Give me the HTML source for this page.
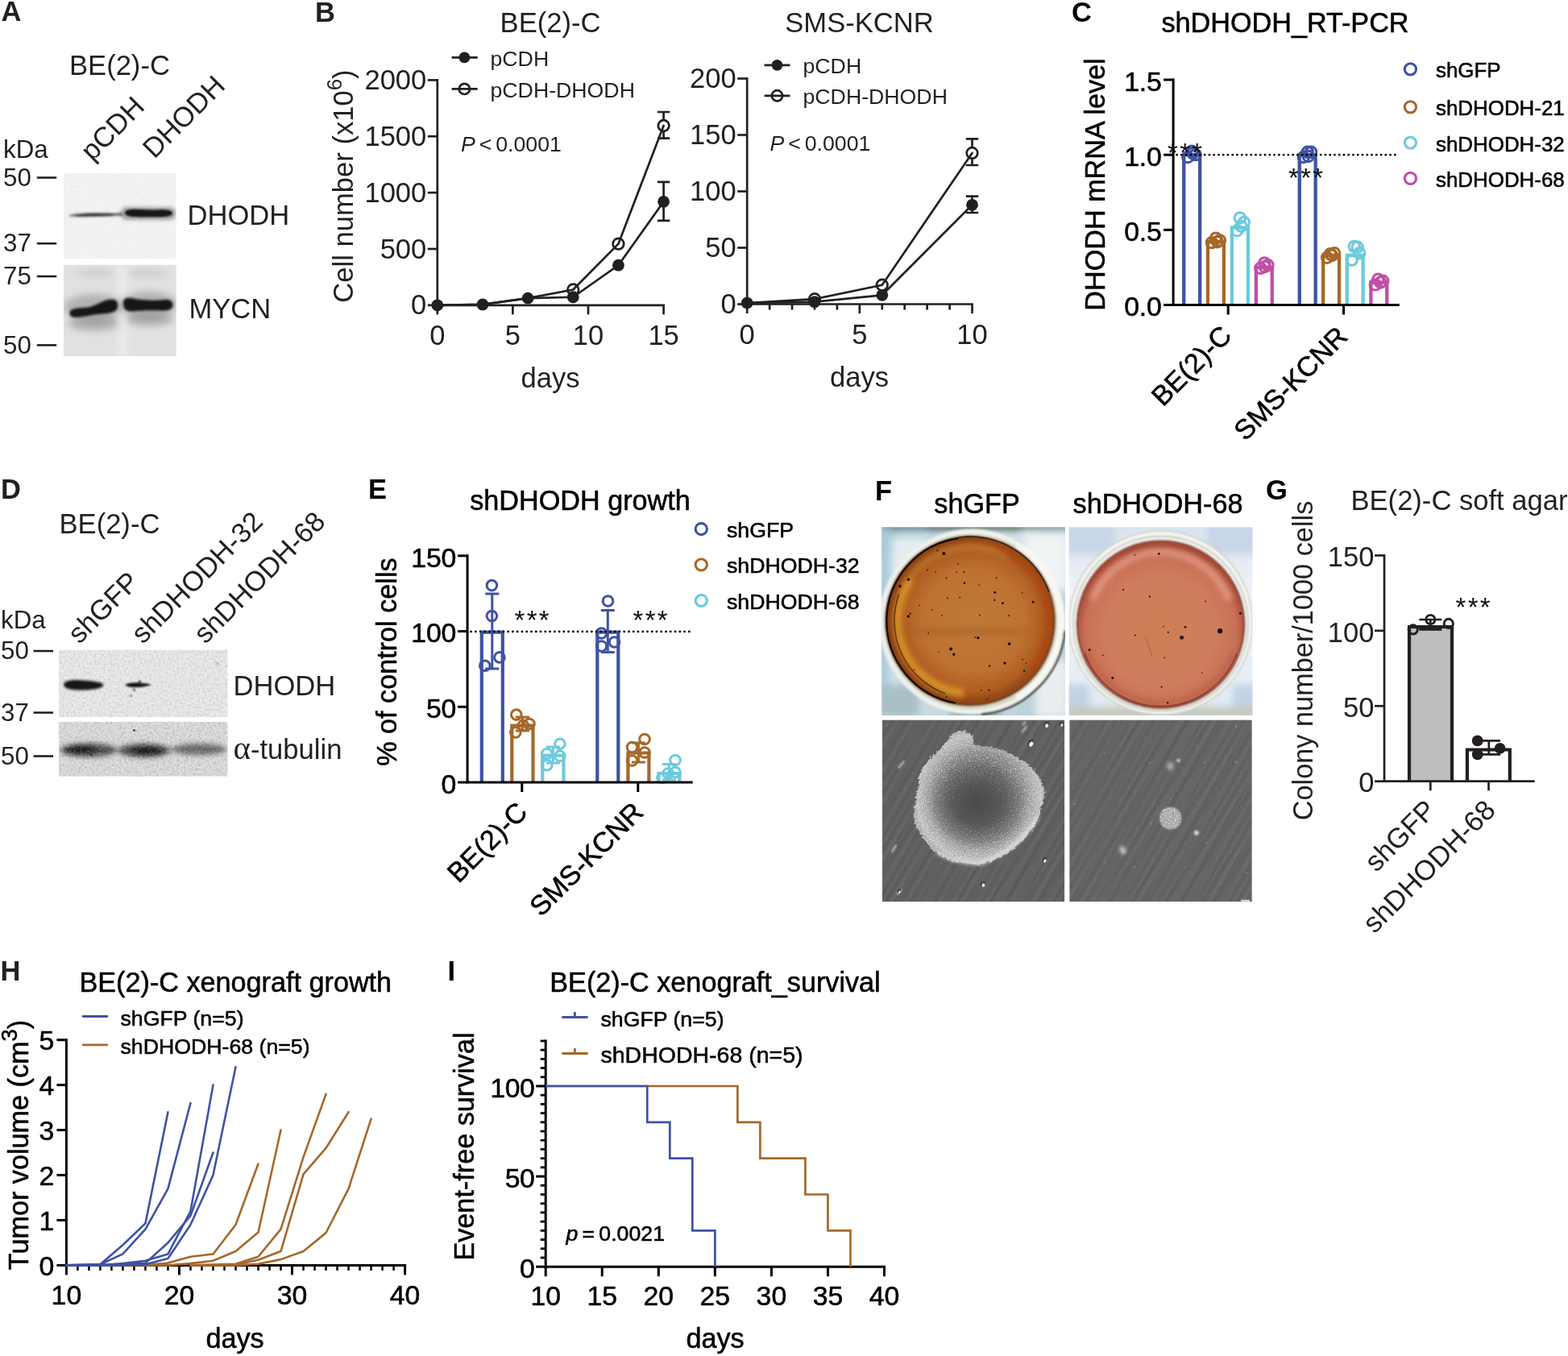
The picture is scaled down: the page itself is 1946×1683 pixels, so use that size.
<!DOCTYPE html>
<html lang="en">
<head>
<meta charset="utf-8">
<title>DHODH figure</title>
<style>
html,body{margin:0;padding:0;background:#fff;}
body{width:1946px;height:1683px;overflow:hidden;}
svg{display:block;}
svg text{font-family:"Liberation Sans", sans-serif;fill:#231f20;}
svg text.hv{fill:#000;stroke:#000;stroke-width:0.55px;stroke-linejoin:round;}
</style>
</head>
<body>
<svg width="1946" height="1683" viewBox="0 0 1946 1683">
<rect width="1946" height="1683" fill="#fff"/>
<defs>
<clipPath id="cA1"><rect x="78.8" y="215.1" width="140" height="105.9"/></clipPath>
<clipPath id="cA2"><rect x="78.8" y="328.6" width="140" height="113.7"/></clipPath>
<clipPath id="cD1"><rect x="73" y="806.4" width="209.7" height="83.7"/></clipPath>
<clipPath id="cD2"><rect x="73" y="895.8" width="209.7" height="67.9"/></clipPath>
<clipPath id="cF1"><rect x="1094.2" y="654.2" width="227.8" height="233.8"/></clipPath>
<clipPath id="cF2"><rect x="1326.6" y="654.2" width="227.9" height="233.8"/></clipPath>
<clipPath id="cF3"><rect x="1095" y="893.4" width="226.3" height="225.8"/></clipPath>
<clipPath id="cF4"><rect x="1327.2" y="893.4" width="226.6" height="225.8"/></clipPath>
<filter id="b05" x="-50%" y="-50%" width="200%" height="200%"><feGaussianBlur stdDeviation="0.5"/></filter>
<filter id="b1" x="-50%" y="-50%" width="200%" height="200%"><feGaussianBlur stdDeviation="1"/></filter>
<filter id="b15" x="-50%" y="-50%" width="200%" height="200%"><feGaussianBlur stdDeviation="1.5"/></filter>
<filter id="b2" x="-50%" y="-50%" width="200%" height="200%"><feGaussianBlur stdDeviation="2"/></filter>
<filter id="b3" x="-50%" y="-50%" width="200%" height="200%"><feGaussianBlur stdDeviation="3"/></filter>
<filter id="b5" x="-50%" y="-50%" width="200%" height="200%"><feGaussianBlur stdDeviation="5"/></filter>
<filter id="b8" x="-50%" y="-50%" width="200%" height="200%"><feGaussianBlur stdDeviation="8"/></filter>
<filter id="b12" x="-50%" y="-50%" width="200%" height="200%"><feGaussianBlur stdDeviation="12"/></filter>
<filter id="grain" x="0" y="0" width="100%" height="100%"><feTurbulence type="fractalNoise" baseFrequency="0.35" numOctaves="2" seed="3"/><feColorMatrix type="matrix" values="0 0 0 0 0  0 0 0 0 0  0 0 0 0 0  1.6 0 0 0 -0.62"/></filter>
<filter id="grainw" x="0" y="0" width="100%" height="100%"><feTurbulence type="fractalNoise" baseFrequency="0.35" numOctaves="2" seed="11"/><feColorMatrix type="matrix" values="0 0 0 0 1  0 0 0 0 1  0 0 0 0 1  1.6 0 0 0 -0.62"/></filter>
<filter id="speck" x="0" y="0" width="100%" height="100%"><feTurbulence type="fractalNoise" baseFrequency="0.7" numOctaves="2" seed="7"/><feColorMatrix type="matrix" values="0 0 0 0 1  0 0 0 0 1  0 0 0 0 1  4 0 0 0 -2.0"/><feComposite in2="SourceGraphic" operator="in"/></filter>
<filter id="speckd" x="0" y="0" width="100%" height="100%"><feTurbulence type="fractalNoise" baseFrequency="0.7" numOctaves="2" seed="19"/><feColorMatrix type="matrix" values="0 0 0 0 0.2  0 0 0 0 0.2  0 0 0 0 0.2  4 0 0 0 -2.0"/><feComposite in2="SourceGraphic" operator="in"/></filter>
<filter id="rough" x="-10%" y="-10%" width="120%" height="120%"><feTurbulence type="fractalNoise" baseFrequency="0.25" numOctaves="2" seed="5" result="n"/><feDisplacementMap in="SourceGraphic" in2="n" scale="7" xChannelSelector="R" yChannelSelector="G"/><feGaussianBlur stdDeviation="0.6"/></filter>
<radialGradient id="gAgar1" cx="0.52" cy="0.5" r="0.5"><stop offset="0" stop-color="#c07a38"/><stop offset="0.6" stop-color="#bd7232"/><stop offset="0.85" stop-color="#b05c22"/><stop offset="1" stop-color="#8e3f12"/></radialGradient>
<radialGradient id="gAgar2" cx="0.5" cy="0.55" r="0.52"><stop offset="0" stop-color="#cd7f55"/><stop offset="0.6" stop-color="#cf7e5c"/><stop offset="0.88" stop-color="#c96f58"/><stop offset="1" stop-color="#a44a35"/></radialGradient>
<linearGradient id="gBg1" x1="0" y1="0" x2="1" y2="1"><stop offset="0" stop-color="#a9c6d4"/><stop offset="0.25" stop-color="#d5e4ea"/><stop offset="0.6" stop-color="#c9dbe2"/><stop offset="1" stop-color="#b9ced8"/></linearGradient>
<linearGradient id="gBg2" x1="0" y1="0" x2="0" y2="1"><stop offset="0" stop-color="#d9e3ef"/><stop offset="0.4" stop-color="#f4f6fa"/><stop offset="1" stop-color="#dfe8f2"/></linearGradient>
<radialGradient id="gCol" cx="0.5" cy="0.5" r="0.5"><stop offset="0" stop-color="#555557"/><stop offset="0.45" stop-color="#666668"/><stop offset="0.68" stop-color="#8a8a8c"/><stop offset="0.84" stop-color="#b0b0b1"/><stop offset="0.95" stop-color="#c4c4c5"/><stop offset="1" stop-color="#b0b0b1"/></radialGradient>
<linearGradient id="gStreak" x1="0" y1="0" x2="1" y2="0" gradientUnits="userSpaceOnUse" spreadMethod="repeat" gradientTransform="rotate(32) scale(37 1)"><stop offset="0" stop-color="#fff" stop-opacity="0"/><stop offset="0.12" stop-color="#fff" stop-opacity="0.035"/><stop offset="0.2" stop-color="#000" stop-opacity="0.03"/><stop offset="0.38" stop-color="#fff" stop-opacity="0.05"/><stop offset="0.47" stop-color="#fff" stop-opacity="0.01"/><stop offset="0.6" stop-color="#000" stop-opacity="0.035"/><stop offset="0.78" stop-color="#fff" stop-opacity="0.03"/><stop offset="1" stop-color="#fff" stop-opacity="0"/></linearGradient>
<linearGradient id="gStreak2" x1="0" y1="0" x2="1" y2="0" gradientUnits="userSpaceOnUse" spreadMethod="repeat" gradientTransform="rotate(29) scale(17.3 1)"><stop offset="0" stop-color="#fff" stop-opacity="0"/><stop offset="0.3" stop-color="#fff" stop-opacity="0.035"/><stop offset="0.5" stop-color="#000" stop-opacity="0.03"/><stop offset="0.75" stop-color="#fff" stop-opacity="0.02"/><stop offset="1" stop-color="#fff" stop-opacity="0"/></linearGradient>
<radialGradient id="gCore" cx="0.5" cy="0.5" r="0.5"><stop offset="0" stop-color="#48484a" stop-opacity="0.92"/><stop offset="0.45" stop-color="#505052" stop-opacity="0.8"/><stop offset="0.8" stop-color="#606062" stop-opacity="0.35"/><stop offset="1" stop-color="#707072" stop-opacity="0"/></radialGradient>
<filter id="dots" x="0" y="0" width="100%" height="100%"><feTurbulence type="fractalNoise" baseFrequency="0.16" numOctaves="2" seed="23"/><feColorMatrix type="matrix" values="0 0 0 0 1  0 0 0 0 1  0 0 0 0 1  9 0 0 0 -6.9"/></filter>
</defs>
<g clip-path="url(#cA1)">
<rect x="78.8" y="215.1" width="140" height="105.9" fill="#f3f3f4"/>
<rect x="78.8" y="215.1" width="140" height="105.9" fill="#000" filter="url(#grain)" opacity="0.035"/>
<g filter="url(#b15)">
<path d="M86 267 C100 264.5 118 264.3 146 264.8 L152 264 L152 267.5 C130 268.5 105 269.5 86 268.5Z" fill="#3a3a3a" opacity="0.85"/>
<path d="M92 267.2 C105 265 120 265.2 140 266 L140 267.4 C120 268 105 268.3 92 268Z" fill="#111"/>
</g>
<g filter="url(#b2)" opacity="0.5"><rect x="150" y="257" width="68" height="16" rx="7" fill="#555"/></g>
<g filter="url(#b1)"><path d="M155 264 C156 258 170 260 185 260.5 C200 260.5 212 258.5 214 264.5 C214.5 269.5 200 269.5 185 269.3 C170 269.5 155.5 270 155 264Z" fill="#141414"/></g>
</g>
<g clip-path="url(#cA2)">
<rect x="78.8" y="328.6" width="140" height="113.7" fill="#e1e1e3"/>
<g filter="url(#b5)">
<rect x="148" y="328" width="8" height="116" fill="#f0f0f1" opacity="0.9"/>
<ellipse cx="117" cy="401" rx="32" ry="9" fill="#9a9a9c" opacity="0.75"/>
<ellipse cx="185" cy="396" rx="30" ry="8" fill="#9a9a9c" opacity="0.75"/>
<ellipse cx="117" cy="381" rx="38" ry="16" fill="#777" opacity="0.45"/>
<ellipse cx="184" cy="378" rx="36" ry="16" fill="#777" opacity="0.45"/>
<ellipse cx="118" cy="339" rx="24" ry="4" fill="#bbb" opacity="0.6"/>
<ellipse cx="182" cy="339" rx="26" ry="4" fill="#bbb" opacity="0.6"/>
</g>
<g filter="url(#b15)">
<path d="M86.5 388 C87 382 98 382.5 108 381.5 C120 380 128 371 140 371.5 C147 372 147 380 145 384 C141 390 128 389 118 390.5 C105 392.5 96 395 90 393.5 C87 392.5 86 390 86.5 388Z" fill="#151515"/>
<path d="M153 376 C153 369 160 369 168 371 C180 373 195 373 204 372 C211 371 215 374 214.5 379 C214 385 207 386 198 385.5 C186 385 172 386 164 386.5 C156 387 153 383 153 376Z" fill="#151515"/>
</g>
</g>
<g clip-path="url(#cD1)">
<rect x="73" y="806.4" width="209.7" height="83.7" fill="#e9e9ea"/>
<rect x="73" y="806.4" width="209.7" height="83.7" fill="#000" filter="url(#grain)" opacity="0.15"/>
<rect x="73" y="806.4" width="209.7" height="83.7" fill="#fff" filter="url(#grainw)" opacity="0.25"/>
<g filter="url(#b15)">
<path d="M79 849.5 C80 843 95 843.5 105 844.5 C118 845.5 128 847 128.5 850 C128.5 853.5 118 856 105 856.5 C93 857 79 856 79 849.5Z" fill="#121212"/>
</g>
<g filter="url(#b1)">
<path d="M155.5 850 C158 847.5 168 847 173 847.5 C180 848 186 849 188.5 850 C184 851.5 176 853 170 853 C163 853 157 852.5 155.5 850Z" fill="#161616"/>
<circle cx="173.5" cy="846" r="1.6" fill="#222"/><circle cx="166.5" cy="856" r="1.5" fill="#444"/><circle cx="162.5" cy="863.5" r="1.4" fill="#777"/><circle cx="270" cy="823.5" r="1.5" fill="#999"/>
</g>
</g>
<g clip-path="url(#cD2)">
<rect x="73" y="895.8" width="209.7" height="67.9" fill="#dcdcdd"/>
<g filter="url(#b3)">
<ellipse cx="110" cy="931" rx="35" ry="8.5" fill="#3a3a3a" opacity="0.9"/>
<ellipse cx="100" cy="930.5" rx="20" ry="5" fill="#080808" opacity="0.9"/>
<ellipse cx="179" cy="931.5" rx="33" ry="8.5" fill="#3a3a3a" opacity="0.9"/>
<ellipse cx="182" cy="932" rx="21" ry="5" fill="#080808" opacity="0.9"/>
<ellipse cx="247" cy="930" rx="34" ry="7" fill="#4a4a4a" opacity="0.8"/>
</g>
<rect x="73" y="895.8" width="209.7" height="67.9" fill="#000" filter="url(#grain)" opacity="0.2"/>
<rect x="73" y="895.8" width="209.7" height="67.9" fill="#fff" filter="url(#grainw)" opacity="0.28"/>
<circle cx="166.5" cy="906.5" r="1.3" fill="#222"/><circle cx="113" cy="937.5" r="1" fill="#111"/>
</g>
<g clip-path="url(#cF1)">
<rect x="1094.2" y="654.2" width="227.8" height="233.8" fill="url(#gBg1)"/>
<g filter="url(#b5)">
<rect x="1090" y="650" width="236" height="7" fill="#4f7274"/>
<rect x="1150" y="651" width="120" height="6" fill="#2f3a2c"/>
<rect x="1090" y="654" width="12" height="234" fill="#a9c9da"/>
<rect x="1108" y="668" width="40" height="45" fill="#e4eef2"/>
<rect x="1270" y="662" width="55" height="70" fill="#eef3f4"/>
<rect x="1090" y="850" width="50" height="40" fill="#a9bfc6"/>
<rect x="1285" y="820" width="40" height="70" fill="#e9eef0"/>
<rect x="1180" y="878" width="60" height="12" fill="#8aa5ac"/>
</g>
<g filter="url(#b1)">
<circle cx="1205.9" cy="771.6" r="112" fill="#d6d8c8" stroke="#eef0ea" stroke-width="6"/>
<path d="M1261.9 676.34A110 110 0 0 1 1261.9 866.86" fill="none" stroke="#f7f7f2" stroke-width="9"/>
<path d="M1321.47 782.54A114 114 0 0 1 1217.84 886.17" fill="none" stroke="#26201a" stroke-width="2.4"/>
<circle cx="1203.9" cy="770.6" r="106" fill="#5a2f0e"/>
<circle cx="1203.9" cy="770.6" r="104" fill="url(#gAgar1)"/>
</g>
<g filter="url(#b3)">
<path d="M1196.06 860.26A90 90 0 0 1 1130.18 718.98" fill="none" stroke="#dd9a2c" stroke-width="10" opacity="0.85"/>
<path d="M1128.54 717.83A92 92 0 0 1 1249.9 690.93" fill="none" stroke="#c98a33" stroke-width="7" opacity="0.6"/>
<path d="M1237.08 679.45A97 97 0 0 1 1278.21 832.95" fill="none" stroke="#aa4515" stroke-width="9" opacity="0.75"/>
<path d="M1279.74 834.24A99 99 0 0 1 1140.26 846.44" fill="none" stroke="#8a4a17" stroke-width="6" opacity="0.6"/>
<ellipse cx="1198.9" cy="783.6" rx="85" ry="6" fill="#a55f28" opacity="0.45"/>
</g>
<g filter="url(#b05)" fill="none" stroke="#130b04">
<path d="M1185.93 872.53A103.5 103.5 0 0 1 1189.5 668.11" stroke-width="2.2"/>
<path d="M1173.07 860.81A96 96 0 0 1 1115.69 737.77" stroke-width="1.4" opacity="0.55"/>
<path d="M1189.36 667.12A104.5 104.5 0 0 1 1302.1 734.86" stroke-width="1.4" opacity="0.7"/>
</g>
<g filter="url(#b05)" fill="#120c08">
<circle cx="1171.18" cy="687.05" r="2.05"/>
<circle cx="1163.31" cy="683.34" r="1.03"/>
<circle cx="1127.35" cy="719.29" r="1.71"/>
<circle cx="1116.95" cy="727.47" r="1.71"/>
<circle cx="1127.35" cy="765.06" r="1.71"/>
<circle cx="1129.58" cy="761.64" r="1.03"/>
<circle cx="1189.01" cy="699.53" r="0.85"/>
<circle cx="1196.44" cy="709.93" r="1.03"/>
<circle cx="1187.23" cy="710.38" r="0.8"/>
<circle cx="1161.23" cy="709.93" r="0.8"/>
<circle cx="1151.12" cy="707.41" r="0.85"/>
<circle cx="1174.6" cy="717.07" r="0.85"/>
<circle cx="1196.89" cy="723.75" r="1.2"/>
<circle cx="1234.63" cy="735.19" r="1.54"/>
<circle cx="1234.33" cy="744.85" r="1.03"/>
<circle cx="1244.44" cy="748.71" r="1.37"/>
<circle cx="1282.18" cy="747.23" r="1.37"/>
<circle cx="1268.8" cy="735.94" r="0.8"/>
<circle cx="1236.56" cy="717.36" r="0.85"/>
<circle cx="1215.31" cy="725.98" r="0.8"/>
<circle cx="1175.94" cy="742.03" r="0.85"/>
<circle cx="1191.24" cy="741.58" r="0.8"/>
<circle cx="1252.16" cy="764.17" r="0.85"/>
<circle cx="1215.76" cy="763.42" r="0.8"/>
<circle cx="1213.83" cy="791.66" r="1.71"/>
<circle cx="1210.26" cy="790.91" r="0.85"/>
<circle cx="1252.61" cy="799.09" r="1.88"/>
<circle cx="1180.1" cy="805.48" r="1.88"/>
<circle cx="1183.81" cy="812.16" r="1.54"/>
<circle cx="1246.96" cy="823.01" r="1.71"/>
<circle cx="1228.09" cy="826.43" r="1.2"/>
<circle cx="1271.18" cy="832.67" r="1.2"/>
<circle cx="1273.41" cy="823.31" r="0.8"/>
<circle cx="1268.8" cy="818.55" r="0.8"/>
<circle cx="1227.35" cy="856.44" r="1.03"/>
<circle cx="1217.69" cy="856.44" r="0.8"/>
<circle cx="1152.31" cy="785.71" r="0.8"/>
<circle cx="1156.77" cy="756.74" r="0.8"/>
<circle cx="1140.72" cy="751.54" r="0.8"/>
<circle cx="1168.95" cy="763.87" r="0.8"/>
<circle cx="1165.24" cy="809.49" r="0.8"/>
<circle cx="1134.48" cy="831.18" r="0.8"/>
<circle cx="1174.6" cy="864.61" r="0.8"/>
<circle cx="1225.42" cy="867.44" r="0.8"/>
</g>
</g>
<g clip-path="url(#cF2)">
<rect x="1326.6" y="654.2" width="227.9" height="233.8" fill="url(#gBg2)"/>
<g filter="url(#b5)">
<rect x="1322" y="650" width="62" height="38" fill="#c9d6e8"/>
<rect x="1498" y="650" width="62" height="38" fill="#c9d6e8"/>
<rect x="1322" y="850" width="30" height="42" fill="#c3d2e4"/>
<rect x="1530" y="850" width="30" height="42" fill="#c3d2e4"/>
<rect x="1322" y="878" width="240" height="14" fill="#c4c7ba"/>
</g>
<g filter="url(#b1)">
<circle cx="1440.56" cy="773.01" r="114" fill="#f5f5f1" stroke="#c9ccc2" stroke-width="1.5"/>
<circle cx="1440.56" cy="774.01" r="108.5" fill="none" stroke="#b4b7aa" stroke-width="1.3"/>
<circle cx="1440.56" cy="775.01" r="105" fill="#74281a"/>
<circle cx="1440.56" cy="774.21" r="103.2" fill="url(#gAgar2)"/>
</g>
<g filter="url(#b3)">
<path d="M1355.98 744.23A90 90 0 0 1 1525.13 744.23" fill="none" stroke="#e59a86" stroke-width="10" opacity="0.8"/>
<path d="M1531.71 808.19A97 97 0 0 1 1349.41 808.19" fill="none" stroke="#b2553c" stroke-width="6" opacity="0.55"/>
</g>
<path d="M1535 810.39A100.5 100.5 0 0 1 1346.12 810.39" fill="none" stroke="#4a150c" stroke-width="1.4" opacity="0.45" filter="url(#b05)"/>
<line x1="1421" y1="789" x2="1430" y2="815" stroke="#a8563c" stroke-width="1.2" opacity="0.6"/>
<g filter="url(#b05)" fill="#120a08">
<circle cx="1514.11" cy="783.19" r="3.11"/>
<circle cx="1466.56" cy="791.36" r="2.45"/>
<circle cx="1471.02" cy="778.28" r="1.31"/>
<circle cx="1438.33" cy="687.35" r="1.31"/>
<circle cx="1408.61" cy="688.83" r="0.82"/>
<circle cx="1394.2" cy="731.92" r="0.98"/>
<circle cx="1426.89" cy="740.39" r="1.14"/>
<circle cx="1495.98" cy="746.34" r="0.82"/>
<circle cx="1408.91" cy="788.39" r="0.98"/>
<circle cx="1539.37" cy="761.2" r="1.47"/>
<circle cx="1352.15" cy="806.66" r="1.31"/>
<circle cx="1368.79" cy="813.35" r="0.82"/>
<circle cx="1380.82" cy="841.43" r="1.47"/>
<circle cx="1441.6" cy="852.58" r="0.98"/>
<circle cx="1449.18" cy="872.34" r="1.14"/>
<circle cx="1445.31" cy="816.32" r="0.82"/>
<circle cx="1491.52" cy="835.19" r="0.8"/>
<circle cx="1449.77" cy="784.67" r="0.98"/>
<circle cx="1443.97" cy="777.69" r="0.8"/>
</g>
</g>
<g clip-path="url(#cF3)">
<rect x="1095" y="893.4" width="226.3" height="225.8" fill="#5d5d5f"/>
<rect x="1095" y="893.4" width="226.3" height="225.8" fill="url(#gStreak)"/>
<rect x="1095" y="893.4" width="226.3" height="225.8" fill="url(#gStreak2)"/>
<g filter="url(#rough)"><path d="M1177.12 917.52Q1180.1 911.95 1184.55 909.35Q1189.01 906.75 1194.96 907.12Q1200.9 907.49 1204.24 910.46Q1207.59 913.43 1207.96 919Q1208.33 924.58 1213.53 925.32Q1218.73 926.06 1226.16 926.81Q1233.59 927.55 1242.5 930.52Q1251.42 933.49 1259.59 937.95Q1267.76 942.41 1275.19 948.35Q1282.62 954.29 1287.08 960.24Q1291.54 966.18 1294.51 973.61Q1297.48 981.04 1295.25 989.96Q1293.02 998.87 1290.79 1007.79Q1288.57 1016.7 1282.62 1026.36Q1276.68 1036.02 1268.51 1044.19Q1260.33 1052.36 1250.68 1059.05Q1241.02 1065.74 1229.87 1069.45Q1218.73 1073.16 1208.33 1072.79Q1197.93 1072.42 1187.53 1069.82Q1177.12 1067.22 1168.95 1062.76Q1160.78 1058.31 1154.09 1050.88Q1147.41 1043.45 1142.21 1035.27Q1137.01 1027.1 1134.78 1018.93Q1132.55 1010.76 1134.78 1001.84Q1137.01 992.93 1138.49 984.01Q1139.98 975.1 1140.72 966.18Q1141.46 957.27 1146.66 949.84Q1151.86 942.41 1158.55 937.21Q1165.24 932.01 1169.7 927.55Q1174.15 923.09 1177.12 917.52Z" fill="url(#gCol)"/></g>
<path d="M1177.12 917.52Q1180.1 911.95 1184.55 909.35Q1189.01 906.75 1194.96 907.12Q1200.9 907.49 1204.24 910.46Q1207.59 913.43 1207.96 919Q1208.33 924.58 1213.53 925.32Q1218.73 926.06 1226.16 926.81Q1233.59 927.55 1242.5 930.52Q1251.42 933.49 1259.59 937.95Q1267.76 942.41 1275.19 948.35Q1282.62 954.29 1287.08 960.24Q1291.54 966.18 1294.51 973.61Q1297.48 981.04 1295.25 989.96Q1293.02 998.87 1290.79 1007.79Q1288.57 1016.7 1282.62 1026.36Q1276.68 1036.02 1268.51 1044.19Q1260.33 1052.36 1250.68 1059.05Q1241.02 1065.74 1229.87 1069.45Q1218.73 1073.16 1208.33 1072.79Q1197.93 1072.42 1187.53 1069.82Q1177.12 1067.22 1168.95 1062.76Q1160.78 1058.31 1154.09 1050.88Q1147.41 1043.45 1142.21 1035.27Q1137.01 1027.1 1134.78 1018.93Q1132.55 1010.76 1134.78 1001.84Q1137.01 992.93 1138.49 984.01Q1139.98 975.1 1140.72 966.18Q1141.46 957.27 1146.66 949.84Q1151.86 942.41 1158.55 937.21Q1165.24 932.01 1169.7 927.55Q1174.15 923.09 1177.12 917.52Z" fill="#fff" filter="url(#speck)" opacity="0.6"/>
<path d="M1177.12 917.52Q1180.1 911.95 1184.55 909.35Q1189.01 906.75 1194.96 907.12Q1200.9 907.49 1204.24 910.46Q1207.59 913.43 1207.96 919Q1208.33 924.58 1213.53 925.32Q1218.73 926.06 1226.16 926.81Q1233.59 927.55 1242.5 930.52Q1251.42 933.49 1259.59 937.95Q1267.76 942.41 1275.19 948.35Q1282.62 954.29 1287.08 960.24Q1291.54 966.18 1294.51 973.61Q1297.48 981.04 1295.25 989.96Q1293.02 998.87 1290.79 1007.79Q1288.57 1016.7 1282.62 1026.36Q1276.68 1036.02 1268.51 1044.19Q1260.33 1052.36 1250.68 1059.05Q1241.02 1065.74 1229.87 1069.45Q1218.73 1073.16 1208.33 1072.79Q1197.93 1072.42 1187.53 1069.82Q1177.12 1067.22 1168.95 1062.76Q1160.78 1058.31 1154.09 1050.88Q1147.41 1043.45 1142.21 1035.27Q1137.01 1027.1 1134.78 1018.93Q1132.55 1010.76 1134.78 1001.84Q1137.01 992.93 1138.49 984.01Q1139.98 975.1 1140.72 966.18Q1141.46 957.27 1146.66 949.84Q1151.86 942.41 1158.55 937.21Q1165.24 932.01 1169.7 927.55Q1174.15 923.09 1177.12 917.52Z" fill="#000" filter="url(#speckd)" opacity="0.3"/>
<ellipse cx="1212.79" cy="997.38" rx="62" ry="56" fill="url(#gCore)"/>
<g filter="url(#b2)"><path d="M1162.27 1058.31Q1189.01 1073.16 1218.73 1071.68Q1266.28 1050.88 1288.57 1013.73" fill="none" stroke="#f2f2f2" stroke-width="3.5" opacity="0.75"/></g>
<g filter="url(#b1)" stroke="#c9c9c9" stroke-width="2.4" stroke-linecap="round" opacity="0.85">
<line x1="1115.46" y1="952.81" x2="1121.4" y2="945.38"/>
<line x1="1107.29" y1="1056.82" x2="1111.75" y2="1049.39"/>
<line x1="1268.51" y1="908.23" x2="1273.71" y2="902.29"/>
<line x1="1269.99" y1="899.32" x2="1272.52" y2="896.05"/>
<line x1="1113.97" y1="1109.57" x2="1118.43" y2="1104.37"/>
</g>
<g filter="url(#b05)">
<ellipse cx="1278.85" cy="922.49" rx="3.57" ry="4.76" transform="rotate(30 1279.65 923.09)" fill="#3f3f41"/>
<ellipse cx="1280.05" cy="923.49" rx="2.38" ry="3.33" transform="rotate(30 1279.65 923.09)" fill="#ececec"/>
<ellipse cx="1298.17" cy="899.46" rx="3.27" ry="3.57" transform="rotate(30 1298.97 900.06)" fill="#3f3f41"/>
<ellipse cx="1299.37" cy="900.46" rx="2.14" ry="2.38" transform="rotate(30 1298.97 900.06)" fill="#ececec"/>
<ellipse cx="1316.74" cy="898.72" rx="2.23" ry="2.98" transform="rotate(30 1317.54 899.32)" fill="#3f3f41"/>
<ellipse cx="1317.94" cy="899.72" rx="1.31" ry="1.9" transform="rotate(30 1317.54 899.32)" fill="#ececec"/>
<ellipse cx="1295.94" cy="1067.36" rx="2.53" ry="3.57" transform="rotate(30 1296.74 1067.96)" fill="#3f3f41"/>
<ellipse cx="1297.14" cy="1068.36" rx="1.55" ry="2.38" transform="rotate(30 1296.74 1067.96)" fill="#ececec"/>
<ellipse cx="1219.42" cy="1097.53" rx="2.98" ry="3.57" transform="rotate(30 1220.22 1098.13)" fill="#3f3f41"/>
<ellipse cx="1220.62" cy="1098.53" rx="1.9" ry="2.38" transform="rotate(30 1220.22 1098.13)" fill="#ececec"/>
<ellipse cx="1115.4" cy="1106" rx="1.94" ry="2.98" transform="rotate(30 1116.2 1106.6)" fill="#3f3f41"/>
<ellipse cx="1116.6" cy="1107" rx="1.07" ry="1.9" transform="rotate(30 1116.2 1106.6)" fill="#ececec"/>
</g>
</g>
<g clip-path="url(#cF4)">
<rect x="1327.2" y="893.4" width="226.6" height="225.8" fill="#616163"/>
<rect x="1327.2" y="893.4" width="226.6" height="225.8" fill="url(#gStreak)"/>
<rect x="1327.2" y="893.4" width="226.6" height="225.8" fill="url(#gStreak2)"/>
<rect x="1327.2" y="893.4" width="226.6" height="225.8" fill="#fff" filter="url(#dots)" opacity="0.22"/>
<g filter="url(#b1)">
<path d="M1449.44 1002.01Q1452.44 1001.51 1456.44 1002.26Q1460.44 1003.01 1462.94 1006.26Q1465.44 1009.51 1465.94 1013.51Q1466.44 1017.51 1464.94 1021.51Q1463.44 1025.51 1459.94 1027.51Q1456.44 1029.51 1451.94 1029.26Q1447.44 1029.01 1444.44 1026.76Q1441.44 1024.51 1439.94 1020.51Q1438.44 1016.51 1439.44 1012.01Q1440.44 1007.51 1443.44 1005.01Q1446.44 1002.51 1449.44 1002.01Z" fill="#a9a9aa"/>
<circle cx="1484.84" cy="1033.79" r="3" fill="#d5d5d5"/>
<circle cx="1462.55" cy="943.89" r="2.4" fill="#c0c0c0"/>
</g>
<path d="M1449.44 1002.01Q1452.44 1001.51 1456.44 1002.26Q1460.44 1003.01 1462.94 1006.26Q1465.44 1009.51 1465.94 1013.51Q1466.44 1017.51 1464.94 1021.51Q1463.44 1025.51 1459.94 1027.51Q1456.44 1029.51 1451.94 1029.26Q1447.44 1029.01 1444.44 1026.76Q1441.44 1024.51 1439.94 1020.51Q1438.44 1016.51 1439.44 1012.01Q1440.44 1007.51 1443.44 1005.01Q1446.44 1002.51 1449.44 1002.01Z" fill="#fff" filter="url(#speck)" opacity="0.8"/>
<path d="M1449.44 1002.01Q1452.44 1001.51 1456.44 1002.26Q1460.44 1003.01 1462.94 1006.26Q1465.44 1009.51 1465.94 1013.51Q1466.44 1017.51 1464.94 1021.51Q1463.44 1025.51 1459.94 1027.51Q1456.44 1029.51 1451.94 1029.26Q1447.44 1029.01 1444.44 1026.76Q1441.44 1024.51 1439.94 1020.51Q1438.44 1016.51 1439.44 1012.01Q1440.44 1007.51 1443.44 1005.01Q1446.44 1002.51 1449.44 1002.01Z" fill="#000" filter="url(#speckd)" opacity="0.35"/>
<g filter="url(#b2)">
<ellipse cx="1452.44" cy="951.03" rx="4" ry="5" fill="#cfcfcf" opacity="0.7"/>
<ellipse cx="1393.45" cy="1055.33" rx="3.6" ry="5.2" fill="#dcdcdc" opacity="0.85" transform="rotate(-25 1393.45 1055.33)"/>
</g>
<rect x="1540.11" y="1116.85" width="11" height="1.8" fill="#e8e8e8"/>
</g>
<text font-size="34.5" font-weight="bold" transform="translate(1.5 26.1)">A</text>
<text font-size="34.6" transform="translate(86 93)">BE(2)-C</text>
<text font-size="34.6" transform="translate(114.6 201) rotate(-45)">pCDH</text>
<text font-size="34.6" transform="translate(191.5 198) rotate(-45)">DHODH</text>
<text font-size="31.3" transform="translate(4 196.4)">kDa</text>
<text font-size="31.3" transform="translate(4 230.7)">50</text>
<line x1="45.8" y1="220.5" x2="70.2" y2="220.5" stroke="#231f20" stroke-width="2.6"/>
<text font-size="31.3" transform="translate(4 312.4)">37</text>
<line x1="45.8" y1="302.2" x2="70.2" y2="302.2" stroke="#231f20" stroke-width="2.6"/>
<text font-size="31.3" transform="translate(4 353.2)">75</text>
<line x1="45.8" y1="343" x2="70.2" y2="343" stroke="#231f20" stroke-width="2.6"/>
<text font-size="31.3" transform="translate(4 438.6)">50</text>
<line x1="45.8" y1="428.4" x2="70.2" y2="428.4" stroke="#231f20" stroke-width="2.6"/>
<text font-size="34.6" transform="translate(232.5 279)">DHODH</text>
<text font-size="34.6" transform="translate(234.5 395)">MYCN</text>
<text font-size="34.5" font-weight="bold" transform="translate(391 26.6)">B</text>
<text font-size="34.6" text-anchor="middle" transform="translate(683 40)">BE(2)-C</text>
<text font-size="34.6" text-anchor="middle" transform="translate(437.5 231) rotate(-90)">Cell number (x10<tspan dy="-13.3" font-size="26">6</tspan><tspan dy="13.3">)</tspan></text>
<path d="M542.8 99.4V378.8H823.6" fill="none" stroke="#231f20" stroke-width="2.7" stroke-linecap="square"/>
<line x1="530.8" y1="378.8" x2="542.8" y2="378.8" stroke="#231f20" stroke-width="2.7"/>
<text font-size="34.5" text-anchor="end" transform="translate(529.2 390.4)">0</text>
<line x1="530.8" y1="308.95" x2="542.8" y2="308.95" stroke="#231f20" stroke-width="2.7"/>
<text font-size="34.5" text-anchor="end" transform="translate(529.2 320.55)">500</text>
<line x1="530.8" y1="239.1" x2="542.8" y2="239.1" stroke="#231f20" stroke-width="2.7"/>
<text font-size="34.5" text-anchor="end" transform="translate(529.2 250.7)">1000</text>
<line x1="530.8" y1="169.25" x2="542.8" y2="169.25" stroke="#231f20" stroke-width="2.7"/>
<text font-size="34.5" text-anchor="end" transform="translate(529.2 180.85)">1500</text>
<line x1="530.8" y1="99.4" x2="542.8" y2="99.4" stroke="#231f20" stroke-width="2.7"/>
<text font-size="34.5" text-anchor="end" transform="translate(529.2 111)">2000</text>
<line x1="542.8" y1="378.8" x2="542.8" y2="390.3" stroke="#231f20" stroke-width="2.7"/>
<text font-size="34.5" text-anchor="middle" transform="translate(542.8 427.6)">0</text>
<line x1="636.4" y1="378.8" x2="636.4" y2="390.3" stroke="#231f20" stroke-width="2.7"/>
<text font-size="34.5" text-anchor="middle" transform="translate(636.4 427.6)">5</text>
<line x1="730" y1="378.8" x2="730" y2="390.3" stroke="#231f20" stroke-width="2.7"/>
<text font-size="34.5" text-anchor="middle" transform="translate(730 427.6)">10</text>
<line x1="823.6" y1="378.8" x2="823.6" y2="390.3" stroke="#231f20" stroke-width="2.7"/>
<text font-size="34.5" text-anchor="middle" transform="translate(823.6 427.6)">15</text>
<text font-size="34.6" text-anchor="middle" transform="translate(683 480.5)">days</text>
<path d="M815.9 139H831.3M823.6 139V171.7M815.9 171.7H831.3" fill="none" stroke="#231f20" stroke-width="2.7"/>
<path d="M815.9 225.8H831.3M823.6 225.8V273.9M815.9 273.9H831.3" fill="none" stroke="#231f20" stroke-width="2.7"/>
<circle cx="711.28" cy="359.52" r="6.8" fill="#fff" stroke="#231f20" stroke-width="2.7"/>
<circle cx="767.44" cy="302.66" r="6.8" fill="#fff" stroke="#231f20" stroke-width="2.7"/>
<circle cx="823.6" cy="155.98" r="6.8" fill="#fff" stroke="#231f20" stroke-width="2.7"/>
<polyline points="542.8,378.8 598.96,377.96 655.12,370.14 711.28,359.52 767.44,302.66 823.6,155.98" fill="none" stroke="#231f20" stroke-width="2.7" stroke-linejoin="round" stroke-linecap="round"/>
<polyline points="542.8,378.8 598.96,377.96 655.12,370.14 711.28,368.74 767.44,329.21 823.6,250.28" fill="none" stroke="#231f20" stroke-width="2.7" stroke-linejoin="round" stroke-linecap="round"/>
<circle cx="542.8" cy="378.8" r="7.4" fill="#231f20" stroke="none" stroke-width="0"/>
<circle cx="598.96" cy="377.96" r="7.4" fill="#231f20" stroke="none" stroke-width="0"/>
<circle cx="655.12" cy="370.14" r="7.4" fill="#231f20" stroke="none" stroke-width="0"/>
<circle cx="711.28" cy="368.74" r="7.4" fill="#231f20" stroke="none" stroke-width="0"/>
<circle cx="767.44" cy="329.21" r="7.4" fill="#231f20" stroke="none" stroke-width="0"/>
<circle cx="823.6" cy="250.28" r="7.4" fill="#231f20" stroke="none" stroke-width="0"/>
<line x1="560.6" y1="71.3" x2="592.7" y2="71.3" stroke="#231f20" stroke-width="2.7"/>
<circle cx="576.4" cy="71.3" r="6.9" fill="#231f20" stroke="none" stroke-width="0"/>
<text font-size="26.7" transform="translate(608.5 81.7)">pCDH</text>
<line x1="560.6" y1="110.4" x2="592.7" y2="110.4" stroke="#231f20" stroke-width="2.7"/>
<circle cx="576.4" cy="110.4" r="6.6" fill="none" stroke="#231f20" stroke-width="2.7"/>
<text font-size="26.7" transform="translate(608.5 120.8)">pCDH-DHODH</text>
<text font-size="26.7" transform="translate(572 188)" word-spacing="-2.5"><tspan font-style="italic">P</tspan> &lt; 0.0001</text>
<text font-size="34.6" text-anchor="middle" transform="translate(1066.5 40)">SMS-KCNR</text>
<path d="M927.2 97.5V377.5H1206.5" fill="none" stroke="#231f20" stroke-width="2.7" stroke-linecap="square"/>
<line x1="915.2" y1="377.5" x2="927.2" y2="377.5" stroke="#231f20" stroke-width="2.7"/>
<text font-size="34.5" text-anchor="end" transform="translate(913.6 389.1)">0</text>
<line x1="915.2" y1="307.5" x2="927.2" y2="307.5" stroke="#231f20" stroke-width="2.7"/>
<text font-size="34.5" text-anchor="end" transform="translate(913.6 319.1)">50</text>
<line x1="915.2" y1="237.5" x2="927.2" y2="237.5" stroke="#231f20" stroke-width="2.7"/>
<text font-size="34.5" text-anchor="end" transform="translate(913.6 249.1)">100</text>
<line x1="915.2" y1="167.5" x2="927.2" y2="167.5" stroke="#231f20" stroke-width="2.7"/>
<text font-size="34.5" text-anchor="end" transform="translate(913.6 179.1)">150</text>
<line x1="915.2" y1="97.5" x2="927.2" y2="97.5" stroke="#231f20" stroke-width="2.7"/>
<text font-size="34.5" text-anchor="end" transform="translate(913.6 109.1)">200</text>
<line x1="927.2" y1="377.5" x2="927.2" y2="389" stroke="#231f20" stroke-width="2.7"/>
<text font-size="34.5" text-anchor="middle" transform="translate(927.2 426.5)">0</text>
<line x1="955.13" y1="377.5" x2="955.13" y2="384.5" stroke="#231f20" stroke-width="2.7"/>
<line x1="983.06" y1="377.5" x2="983.06" y2="384.5" stroke="#231f20" stroke-width="2.7"/>
<line x1="1010.99" y1="377.5" x2="1010.99" y2="384.5" stroke="#231f20" stroke-width="2.7"/>
<line x1="1038.92" y1="377.5" x2="1038.92" y2="384.5" stroke="#231f20" stroke-width="2.7"/>
<line x1="1066.85" y1="377.5" x2="1066.85" y2="389" stroke="#231f20" stroke-width="2.7"/>
<text font-size="34.5" text-anchor="middle" transform="translate(1066.85 426.5)">5</text>
<line x1="1094.78" y1="377.5" x2="1094.78" y2="384.5" stroke="#231f20" stroke-width="2.7"/>
<line x1="1122.71" y1="377.5" x2="1122.71" y2="384.5" stroke="#231f20" stroke-width="2.7"/>
<line x1="1150.64" y1="377.5" x2="1150.64" y2="384.5" stroke="#231f20" stroke-width="2.7"/>
<line x1="1178.57" y1="377.5" x2="1178.57" y2="384.5" stroke="#231f20" stroke-width="2.7"/>
<line x1="1206.5" y1="377.5" x2="1206.5" y2="389" stroke="#231f20" stroke-width="2.7"/>
<text font-size="34.5" text-anchor="middle" transform="translate(1206.5 426.5)">10</text>
<text font-size="34.6" text-anchor="middle" transform="translate(1066.5 480)">days</text>
<path d="M1198.8 172.3H1214.2M1206.5 172.3V205M1198.8 205H1214.2" fill="none" stroke="#231f20" stroke-width="2.7"/>
<path d="M1198.8 243.6H1214.2M1206.5 243.6V264M1198.8 264H1214.2" fill="none" stroke="#231f20" stroke-width="2.7"/>
<circle cx="1010.99" cy="371.2" r="6.8" fill="#fff" stroke="#231f20" stroke-width="2.7"/>
<circle cx="1094.78" cy="353.7" r="6.8" fill="#fff" stroke="#231f20" stroke-width="2.7"/>
<circle cx="1206.5" cy="189.9" r="6.8" fill="#fff" stroke="#231f20" stroke-width="2.7"/>
<polyline points="927.2,376.1 1010.99,371.2 1094.78,353.7 1206.5,189.9" fill="none" stroke="#231f20" stroke-width="2.7" stroke-linejoin="round" stroke-linecap="round"/>
<polyline points="927.2,376.1 1010.99,374.7 1094.78,366.3 1206.5,254.3" fill="none" stroke="#231f20" stroke-width="2.7" stroke-linejoin="round" stroke-linecap="round"/>
<circle cx="927.2" cy="376.1" r="7.4" fill="#231f20" stroke="none" stroke-width="0"/>
<circle cx="1010.99" cy="374.7" r="7.4" fill="#231f20" stroke="none" stroke-width="0"/>
<circle cx="1094.78" cy="366.3" r="7.4" fill="#231f20" stroke="none" stroke-width="0"/>
<circle cx="1206.5" cy="254.3" r="7.4" fill="#231f20" stroke="none" stroke-width="0"/>
<line x1="948.6" y1="80.8" x2="980.5" y2="80.8" stroke="#231f20" stroke-width="2.7"/>
<circle cx="964.5" cy="80.8" r="6.9" fill="#231f20" stroke="none" stroke-width="0"/>
<text font-size="26.7" transform="translate(996.5 91.2)">pCDH</text>
<line x1="948.6" y1="118.8" x2="980.5" y2="118.8" stroke="#231f20" stroke-width="2.7"/>
<circle cx="964.5" cy="118.8" r="6.6" fill="none" stroke="#231f20" stroke-width="2.7"/>
<text font-size="26.7" transform="translate(996.5 129.2)">pCDH-DHODH</text>
<text font-size="26.7" transform="translate(955.5 186.5)" word-spacing="-2.5"><tspan font-style="italic">P</tspan> &lt; 0.0001</text>
<text font-size="34.5" font-weight="bold" transform="translate(1330 26.6)" style="fill:#000">C</text>
<text font-size="34.2" text-anchor="middle" transform="translate(1595 39.5)" class="hv">shDHODH_RT-PCR</text>
<text font-size="34.2" text-anchor="middle" transform="translate(1371 229) rotate(-90)" class="hv">DHODH mRNA level</text>
<path d="M1469.25 378.5V192.17H1489.15V378.5" fill="none" stroke="#3f52a3" stroke-width="4.3"/>
<circle cx="1474.3" cy="194.96" r="6.7" fill="none" stroke="#3f52a3" stroke-width="3"/>
<circle cx="1479.2" cy="187.69" r="6.7" fill="none" stroke="#3f52a3" stroke-width="3"/>
<circle cx="1483.6" cy="192.17" r="6.7" fill="none" stroke="#3f52a3" stroke-width="3"/>
<circle cx="1480.2" cy="190.3" r="6.7" fill="none" stroke="#3f52a3" stroke-width="3"/>
<path d="M1498.95 378.5V300.24H1518.85V378.5" fill="none" stroke="#a5682a" stroke-width="4.3"/>
<circle cx="1503.9" cy="301.17" r="6.7" fill="none" stroke="#a5682a" stroke-width="3"/>
<circle cx="1508.9" cy="295.58" r="6.7" fill="none" stroke="#a5682a" stroke-width="3"/>
<circle cx="1513.9" cy="298.38" r="6.7" fill="none" stroke="#a5682a" stroke-width="3"/>
<circle cx="1510.9" cy="300.24" r="6.7" fill="none" stroke="#a5682a" stroke-width="3"/>
<path d="M1528.85 378.5V282.54H1548.85V378.5" fill="none" stroke="#6ccadc" stroke-width="4.3"/>
<circle cx="1535.35" cy="286.26" r="6.7" fill="none" stroke="#6ccadc" stroke-width="3"/>
<circle cx="1538.85" cy="270.43" r="6.7" fill="none" stroke="#6ccadc" stroke-width="3"/>
<circle cx="1543.85" cy="276.02" r="6.7" fill="none" stroke="#6ccadc" stroke-width="3"/>
<circle cx="1540.35" cy="280.68" r="6.7" fill="none" stroke="#6ccadc" stroke-width="3"/>
<path d="M1558.85 378.5V331.92H1578.75V378.5" fill="none" stroke="#bf4fa5" stroke-width="4.3"/>
<circle cx="1564.3" cy="332.85" r="6.7" fill="none" stroke="#bf4fa5" stroke-width="3"/>
<circle cx="1569.3" cy="326.33" r="6.7" fill="none" stroke="#bf4fa5" stroke-width="3"/>
<circle cx="1573.5" cy="329.12" r="6.7" fill="none" stroke="#bf4fa5" stroke-width="3"/>
<circle cx="1569.8" cy="330.99" r="6.7" fill="none" stroke="#bf4fa5" stroke-width="3"/>
<path d="M1612.75 378.5V192.17H1632.65V378.5" fill="none" stroke="#3f52a3" stroke-width="4.3"/>
<circle cx="1617.8" cy="194.96" r="6.7" fill="none" stroke="#3f52a3" stroke-width="3"/>
<circle cx="1622.7" cy="188.81" r="6.7" fill="none" stroke="#3f52a3" stroke-width="3"/>
<circle cx="1627.1" cy="188.81" r="6.7" fill="none" stroke="#3f52a3" stroke-width="3"/>
<circle cx="1623.7" cy="194.03" r="6.7" fill="none" stroke="#3f52a3" stroke-width="3"/>
<path d="M1642.15 378.5V317.01H1662.05V378.5" fill="none" stroke="#a5682a" stroke-width="4.3"/>
<circle cx="1647.1" cy="319.81" r="6.7" fill="none" stroke="#a5682a" stroke-width="3"/>
<circle cx="1651.1" cy="315.15" r="6.7" fill="none" stroke="#a5682a" stroke-width="3"/>
<circle cx="1656.1" cy="314.22" r="6.7" fill="none" stroke="#a5682a" stroke-width="3"/>
<circle cx="1653.1" cy="317.01" r="6.7" fill="none" stroke="#a5682a" stroke-width="3"/>
<path d="M1671.75 378.5V317.01H1691.65V378.5" fill="none" stroke="#6ccadc" stroke-width="4.3"/>
<circle cx="1677.7" cy="322.6" r="6.7" fill="none" stroke="#6ccadc" stroke-width="3"/>
<circle cx="1680.7" cy="305.83" r="6.7" fill="none" stroke="#6ccadc" stroke-width="3"/>
<circle cx="1684.7" cy="306.76" r="6.7" fill="none" stroke="#6ccadc" stroke-width="3"/>
<circle cx="1687.2" cy="314.22" r="6.7" fill="none" stroke="#6ccadc" stroke-width="3"/>
<path d="M1701.35 378.5V350.55H1721.25V378.5" fill="none" stroke="#bf4fa5" stroke-width="4.3"/>
<circle cx="1706.8" cy="353.35" r="6.7" fill="none" stroke="#bf4fa5" stroke-width="3"/>
<circle cx="1710.3" cy="346.82" r="6.7" fill="none" stroke="#bf4fa5" stroke-width="3"/>
<circle cx="1716.3" cy="348.69" r="6.7" fill="none" stroke="#bf4fa5" stroke-width="3"/>
<circle cx="1713.3" cy="350.55" r="6.7" fill="none" stroke="#bf4fa5" stroke-width="3"/>
<line x1="1460.6" y1="192.17" x2="1732.5" y2="192.17" stroke="#000" stroke-width="2.8" stroke-dasharray="0.01 5.75" stroke-linecap="round"/>
<path d="M1456.1 99V378.5H1735.3" fill="none" stroke="#000" stroke-width="3" stroke-linecap="square"/>
<line x1="1444.1" y1="378.5" x2="1456.1" y2="378.5" stroke="#000" stroke-width="3"/>
<text font-size="33.8" text-anchor="end" transform="translate(1441.6 392.1)" class="hv" letter-spacing="-0.2">0.0</text>
<line x1="1444.1" y1="285.33" x2="1456.1" y2="285.33" stroke="#000" stroke-width="3"/>
<text font-size="33.8" text-anchor="end" transform="translate(1441.6 298.93)" class="hv" letter-spacing="-0.2">0.5</text>
<line x1="1444.1" y1="192.17" x2="1456.1" y2="192.17" stroke="#000" stroke-width="3"/>
<text font-size="33.8" text-anchor="end" transform="translate(1441.6 205.77)" class="hv" letter-spacing="-0.2">1.0</text>
<line x1="1444.1" y1="99" x2="1456.1" y2="99" stroke="#000" stroke-width="3"/>
<text font-size="33.8" text-anchor="end" transform="translate(1441.6 112.6)" class="hv" letter-spacing="-0.2">1.5</text>
<line x1="1524.2" y1="378.5" x2="1524.2" y2="390.5" stroke="#000" stroke-width="3"/>
<line x1="1667.5" y1="378.5" x2="1667.5" y2="390.5" stroke="#000" stroke-width="3"/>
<text font-size="34.2" text-anchor="end" transform="translate(1530.5 418.5) rotate(-45)" class="hv">BE(2)-C</text>
<text font-size="34.2" text-anchor="end" transform="translate(1674.5 419.5) rotate(-45)" class="hv">SMS-KCNR</text>
<text font-size="33" transform="translate(1449 200.5)" style="fill:#111" letter-spacing="2.3">***</text>
<text font-size="33" transform="translate(1599 232)" style="fill:#111" letter-spacing="2.3">***</text>
<circle cx="1750.4" cy="85.9" r="7.1" fill="none" stroke="#3f52a3" stroke-width="3.1"/>
<text font-size="25.9" transform="translate(1782 96.3)" class="hv">shGFP</text>
<circle cx="1750.4" cy="132.8" r="7.1" fill="none" stroke="#a5682a" stroke-width="3.1"/>
<text font-size="25.9" transform="translate(1782 143.2)" class="hv">shDHODH-21</text>
<circle cx="1750.4" cy="177.1" r="7.1" fill="none" stroke="#6ccadc" stroke-width="3.1"/>
<text font-size="25.9" transform="translate(1782 187.5)" class="hv">shDHODH-32</text>
<circle cx="1750.4" cy="221.4" r="7.1" fill="none" stroke="#bf4fa5" stroke-width="3.1"/>
<text font-size="25.9" transform="translate(1782 231.8)" class="hv">shDHODH-68</text>
<text font-size="34.5" font-weight="bold" transform="translate(1 618.5)">D</text>
<text font-size="34.6" transform="translate(73.5 661.5)">BE(2)-C</text>
<text font-size="34.6" transform="translate(98.5 800.2) rotate(-45)">shGFP</text>
<text font-size="34.6" transform="translate(177.3 800.2) rotate(-45)">shDHODH-32</text>
<text font-size="34.6" transform="translate(254.7 800.2) rotate(-45)">shDHODH-68</text>
<text font-size="31.3" transform="translate(1 779.5)">kDa</text>
<text font-size="31.3" transform="translate(1 818.2)">50</text>
<line x1="41.5" y1="808" x2="66" y2="808" stroke="#231f20" stroke-width="2.6"/>
<text font-size="31.3" transform="translate(1 894.7)">37</text>
<line x1="41.5" y1="884.5" x2="66" y2="884.5" stroke="#231f20" stroke-width="2.6"/>
<text font-size="31.3" transform="translate(1 948.7)">50</text>
<line x1="41.5" y1="938.5" x2="66" y2="938.5" stroke="#231f20" stroke-width="2.6"/>
<text font-size="34.6" transform="translate(289.5 863)">DHODH</text>
<text font-size="34.6" transform="translate(289.5 941.7)"><tspan font-family="Liberation Serif, serif" font-size="41">α</tspan>-tubulin</text>
<text font-size="34.5" font-weight="bold" transform="translate(457 618.5)" style="fill:#000">E</text>
<text font-size="34.2" text-anchor="middle" transform="translate(720 633)" class="hv">shDHODH growth</text>
<text font-size="34.2" text-anchor="middle" transform="translate(492 821.6) rotate(-90)" class="hv">% of control cells</text>
<path d="M597.8 971V784.7H623.8V971" fill="none" stroke="#3f52a3" stroke-width="4.2"/>
<path d="M602.3 737H619.3M610.8 737V830.1M602.3 830.1H619.3" fill="none" stroke="#3f52a3" stroke-width="3"/>
<path d="M635.3 971V900.6H661.5V971" fill="none" stroke="#a5682a" stroke-width="4.2"/>
<path d="M639.9 890H656.9M648.4 890V907M639.9 907H656.9" fill="none" stroke="#a5682a" stroke-width="3"/>
<path d="M673.3 971V937.7H699.5V971" fill="none" stroke="#6ccadc" stroke-width="4.2"/>
<path d="M677.9 927H694.9M686.4 927V947M677.9 947H694.9" fill="none" stroke="#6ccadc" stroke-width="3"/>
<path d="M741.3 971V784.7H767.3V971" fill="none" stroke="#3f52a3" stroke-width="4.2"/>
<path d="M745.8 757.5H762.8M754.3 757.5V809.5M745.8 809.5H762.8" fill="none" stroke="#3f52a3" stroke-width="3"/>
<path d="M779.4 971V934.5H805.4V971" fill="none" stroke="#a5682a" stroke-width="4.2"/>
<path d="M783.9 922H800.9M792.4 922V946M783.9 946H800.9" fill="none" stroke="#a5682a" stroke-width="3"/>
<path d="M817.4 971V960H843.4V971" fill="none" stroke="#6ccadc" stroke-width="4.2"/>
<path d="M821.9 948.5H838.9M830.4 948.5V968M821.9 968H838.9" fill="none" stroke="#6ccadc" stroke-width="3"/>
<circle cx="610.4" cy="726.6" r="6.3" fill="none" stroke="#3f52a3" stroke-width="3"/>
<circle cx="610.4" cy="764.6" r="6.3" fill="none" stroke="#3f52a3" stroke-width="3"/>
<circle cx="619.9" cy="815.9" r="6.3" fill="none" stroke="#3f52a3" stroke-width="3"/>
<circle cx="601.8" cy="826.3" r="6.3" fill="none" stroke="#3f52a3" stroke-width="3"/>
<circle cx="640.8" cy="887.1" r="6.3" fill="none" stroke="#a5682a" stroke-width="3"/>
<circle cx="639.8" cy="909" r="6.3" fill="none" stroke="#a5682a" stroke-width="3"/>
<circle cx="649.3" cy="900.4" r="6.3" fill="none" stroke="#a5682a" stroke-width="3"/>
<circle cx="657" cy="898.5" r="6.3" fill="none" stroke="#a5682a" stroke-width="3"/>
<circle cx="694.9" cy="923.2" r="6.3" fill="none" stroke="#6ccadc" stroke-width="3"/>
<circle cx="678.8" cy="935.6" r="6.3" fill="none" stroke="#6ccadc" stroke-width="3"/>
<circle cx="694.9" cy="938.4" r="6.3" fill="none" stroke="#6ccadc" stroke-width="3"/>
<circle cx="678.8" cy="949.8" r="6.3" fill="none" stroke="#6ccadc" stroke-width="3"/>
<circle cx="754.5" cy="746" r="6.3" fill="none" stroke="#3f52a3" stroke-width="3"/>
<circle cx="746.5" cy="786" r="6.3" fill="none" stroke="#3f52a3" stroke-width="3"/>
<circle cx="762.5" cy="797" r="6.3" fill="none" stroke="#3f52a3" stroke-width="3"/>
<circle cx="746.5" cy="802" r="6.3" fill="none" stroke="#3f52a3" stroke-width="3"/>
<circle cx="800" cy="917.5" r="6.3" fill="none" stroke="#a5682a" stroke-width="3"/>
<circle cx="784.5" cy="927.5" r="6.3" fill="none" stroke="#a5682a" stroke-width="3"/>
<circle cx="800" cy="934" r="6.3" fill="none" stroke="#a5682a" stroke-width="3"/>
<circle cx="784.5" cy="944" r="6.3" fill="none" stroke="#a5682a" stroke-width="3"/>
<circle cx="838" cy="943.5" r="6.3" fill="none" stroke="#6ccadc" stroke-width="3"/>
<circle cx="838" cy="958.5" r="6.3" fill="none" stroke="#6ccadc" stroke-width="3"/>
<circle cx="829" cy="960" r="6.3" fill="none" stroke="#6ccadc" stroke-width="3"/>
<circle cx="822" cy="965.5" r="6.3" fill="none" stroke="#6ccadc" stroke-width="3"/>
<line x1="584.6" y1="783.93" x2="857.5" y2="783.93" stroke="#000" stroke-width="2.8" stroke-dasharray="0.01 5.75" stroke-linecap="round"/>
<path d="M580.1 689.8V971H858.2" fill="none" stroke="#000" stroke-width="3" stroke-linecap="square"/>
<line x1="568.1" y1="971" x2="580.1" y2="971" stroke="#000" stroke-width="3"/>
<text font-size="33.8" text-anchor="end" transform="translate(566.1 984.7)" class="hv" letter-spacing="-0.2">0</text>
<line x1="568.1" y1="877.27" x2="580.1" y2="877.27" stroke="#000" stroke-width="3"/>
<text font-size="33.8" text-anchor="end" transform="translate(566.1 890.97)" class="hv" letter-spacing="-0.2">50</text>
<line x1="568.1" y1="783.53" x2="580.1" y2="783.53" stroke="#000" stroke-width="3"/>
<text font-size="33.8" text-anchor="end" transform="translate(566.1 797.23)" class="hv" letter-spacing="-0.2">100</text>
<line x1="568.1" y1="689.8" x2="580.1" y2="689.8" stroke="#000" stroke-width="3"/>
<text font-size="33.8" text-anchor="end" transform="translate(566.1 703.5)" class="hv" letter-spacing="-0.2">150</text>
<line x1="647.8" y1="971" x2="647.8" y2="983" stroke="#000" stroke-width="3"/>
<line x1="791.8" y1="971" x2="791.8" y2="983" stroke="#000" stroke-width="3"/>
<text font-size="34.2" text-anchor="end" transform="translate(656.5 1010) rotate(-45)" class="hv">BE(2)-C</text>
<text font-size="34.2" text-anchor="end" transform="translate(800.5 1010) rotate(-45)" class="hv">SMS-KCNR</text>
<text font-size="33" transform="translate(638.5 781)" style="fill:#111" letter-spacing="2.3">***</text>
<text font-size="33" transform="translate(785.5 781)" style="fill:#111" letter-spacing="2.3">***</text>
<circle cx="870.3" cy="656.5" r="7.1" fill="none" stroke="#3f52a3" stroke-width="3.1"/>
<text font-size="26.7" transform="translate(902 666.7)" class="hv">shGFP</text>
<circle cx="870.3" cy="700.9" r="7.1" fill="none" stroke="#a5682a" stroke-width="3.1"/>
<text font-size="26.7" transform="translate(902 711.1)" class="hv">shDHODH-32</text>
<circle cx="870.3" cy="745.3" r="7.1" fill="none" stroke="#6ccadc" stroke-width="3.1"/>
<text font-size="26.7" transform="translate(902 755.5)" class="hv">shDHODH-68</text>
<text font-size="34.5" font-weight="bold" transform="translate(1571 620)" style="fill:#000">G</text>
<text font-size="34.6" text-anchor="middle" transform="translate(1811 632.5)">BE(2)-C soft agar</text>
<text font-size="34.3" text-anchor="middle" transform="translate(1628.5 820) rotate(-90)">Colony number/1000 cells</text>
<path d="M1749 969.7V778H1802V969.7" fill="#bcbec0" stroke="#231f20" stroke-width="4.2"/>
<path d="M1820.9 969.7V930.5H1873.8V969.7" fill="#fff" stroke="#231f20" stroke-width="4.2"/>
<path d="M1761.3 769H1789.3M1775.3 769V781.4M1761.3 781.4H1789.3" fill="none" stroke="#231f20" stroke-width="2.7"/>
<path d="M1833.6 919.4H1862M1847.8 919.4V936.3M1833.6 936.3H1862" fill="none" stroke="#231f20" stroke-width="2.7"/>
<circle cx="1753.7" cy="781.4" r="5.6" fill="none" stroke="#231f20" stroke-width="2.9"/>
<circle cx="1775.3" cy="769" r="5.6" fill="none" stroke="#231f20" stroke-width="2.9"/>
<circle cx="1797.8" cy="773.9" r="5.6" fill="none" stroke="#231f20" stroke-width="2.9"/>
<circle cx="1833.7" cy="919.4" r="6.9" fill="#231f20" stroke="none" stroke-width="0"/>
<circle cx="1833.7" cy="936.3" r="6.9" fill="#231f20" stroke="none" stroke-width="0"/>
<circle cx="1861.6" cy="928.8" r="6.9" fill="#231f20" stroke="none" stroke-width="0"/>
<path d="M1718 689.4V969.7H1903.3" fill="none" stroke="#231f20" stroke-width="2.7" stroke-linecap="square"/>
<line x1="1706" y1="969.7" x2="1718" y2="969.7" stroke="#231f20" stroke-width="2.7"/>
<text font-size="34.5" text-anchor="end" transform="translate(1705.4 983.4)">0</text>
<line x1="1706" y1="876.27" x2="1718" y2="876.27" stroke="#231f20" stroke-width="2.7"/>
<text font-size="34.5" text-anchor="end" transform="translate(1705.4 889.97)">50</text>
<line x1="1706" y1="782.83" x2="1718" y2="782.83" stroke="#231f20" stroke-width="2.7"/>
<text font-size="34.5" text-anchor="end" transform="translate(1705.4 796.53)">100</text>
<line x1="1706" y1="689.4" x2="1718" y2="689.4" stroke="#231f20" stroke-width="2.7"/>
<text font-size="34.5" text-anchor="end" transform="translate(1705.4 703.1)">150</text>
<line x1="1775.3" y1="969.7" x2="1775.3" y2="981.2" stroke="#231f20" stroke-width="2.7"/>
<line x1="1847.5" y1="969.7" x2="1847.5" y2="981.2" stroke="#231f20" stroke-width="2.7"/>
<text font-size="34.6" text-anchor="end" transform="translate(1784 1007.5) rotate(-45)">shGFP</text>
<text font-size="34.9" text-anchor="end" transform="translate(1858 1007.5) rotate(-45)">shDHODH-68</text>
<text font-size="33" transform="translate(1806.5 764.5)" style="fill:#111" letter-spacing="2.3">***</text>
<text font-size="34.5" font-weight="bold" transform="translate(1086 620.5)" style="fill:#000">F</text>
<text font-size="34.2" text-anchor="middle" transform="translate(1212.5 637)" class="hv">shGFP</text>
<text font-size="34.2" text-anchor="middle" transform="translate(1437 637)" class="hv">shDHODH-68</text>
<text font-size="34.5" font-weight="bold" transform="translate(0.5 1217.3)">H</text>
<text font-size="34.2" transform="translate(98.5 1231)" class="hv">BE(2)-C xenograft growth</text>
<text font-size="34.2" text-anchor="middle" transform="translate(34.8 1421) rotate(-90)" class="hv">Tumor volume (cm<tspan dy="-13.7" font-size="27.5">3</tspan><tspan dy="13.7">)</tspan></text>
<path d="M82.4 1290.7V1570.4H502.6" fill="none" stroke="#000" stroke-width="3" stroke-linecap="square"/>
<line x1="70.4" y1="1570.4" x2="82.4" y2="1570.4" stroke="#000" stroke-width="3"/>
<text font-size="33.8" text-anchor="end" transform="translate(67.4 1583.1)" class="hv">0</text>
<line x1="70.4" y1="1514.46" x2="82.4" y2="1514.46" stroke="#000" stroke-width="3"/>
<text font-size="33.8" text-anchor="end" transform="translate(67.4 1527.16)" class="hv">1</text>
<line x1="70.4" y1="1458.52" x2="82.4" y2="1458.52" stroke="#000" stroke-width="3"/>
<text font-size="33.8" text-anchor="end" transform="translate(67.4 1471.22)" class="hv">2</text>
<line x1="70.4" y1="1402.58" x2="82.4" y2="1402.58" stroke="#000" stroke-width="3"/>
<text font-size="33.8" text-anchor="end" transform="translate(67.4 1415.28)" class="hv">3</text>
<line x1="70.4" y1="1346.64" x2="82.4" y2="1346.64" stroke="#000" stroke-width="3"/>
<text font-size="33.8" text-anchor="end" transform="translate(67.4 1359.34)" class="hv">4</text>
<line x1="70.4" y1="1290.7" x2="82.4" y2="1290.7" stroke="#000" stroke-width="3"/>
<text font-size="33.8" text-anchor="end" transform="translate(67.4 1303.4)" class="hv">5</text>
<line x1="82.4" y1="1570.4" x2="82.4" y2="1582.4" stroke="#000" stroke-width="3"/>
<text font-size="33.8" text-anchor="middle" transform="translate(82.4 1619.3)" class="hv">10</text>
<line x1="96.41" y1="1570.4" x2="96.41" y2="1576.9" stroke="#000" stroke-width="2.5"/>
<line x1="110.41" y1="1570.4" x2="110.41" y2="1576.9" stroke="#000" stroke-width="2.5"/>
<line x1="124.42" y1="1570.4" x2="124.42" y2="1576.9" stroke="#000" stroke-width="2.5"/>
<line x1="138.43" y1="1570.4" x2="138.43" y2="1576.9" stroke="#000" stroke-width="2.5"/>
<line x1="152.43" y1="1570.4" x2="152.43" y2="1576.9" stroke="#000" stroke-width="2.5"/>
<line x1="166.44" y1="1570.4" x2="166.44" y2="1576.9" stroke="#000" stroke-width="2.5"/>
<line x1="180.45" y1="1570.4" x2="180.45" y2="1576.9" stroke="#000" stroke-width="2.5"/>
<line x1="194.45" y1="1570.4" x2="194.45" y2="1576.9" stroke="#000" stroke-width="2.5"/>
<line x1="208.46" y1="1570.4" x2="208.46" y2="1576.9" stroke="#000" stroke-width="2.5"/>
<line x1="222.47" y1="1570.4" x2="222.47" y2="1582.4" stroke="#000" stroke-width="3"/>
<text font-size="33.8" text-anchor="middle" transform="translate(222.47 1619.3)" class="hv">20</text>
<line x1="236.47" y1="1570.4" x2="236.47" y2="1576.9" stroke="#000" stroke-width="2.5"/>
<line x1="250.48" y1="1570.4" x2="250.48" y2="1576.9" stroke="#000" stroke-width="2.5"/>
<line x1="264.49" y1="1570.4" x2="264.49" y2="1576.9" stroke="#000" stroke-width="2.5"/>
<line x1="278.49" y1="1570.4" x2="278.49" y2="1576.9" stroke="#000" stroke-width="2.5"/>
<line x1="292.5" y1="1570.4" x2="292.5" y2="1576.9" stroke="#000" stroke-width="2.5"/>
<line x1="306.51" y1="1570.4" x2="306.51" y2="1576.9" stroke="#000" stroke-width="2.5"/>
<line x1="320.51" y1="1570.4" x2="320.51" y2="1576.9" stroke="#000" stroke-width="2.5"/>
<line x1="334.52" y1="1570.4" x2="334.52" y2="1576.9" stroke="#000" stroke-width="2.5"/>
<line x1="348.53" y1="1570.4" x2="348.53" y2="1576.9" stroke="#000" stroke-width="2.5"/>
<line x1="362.53" y1="1570.4" x2="362.53" y2="1582.4" stroke="#000" stroke-width="3"/>
<text font-size="33.8" text-anchor="middle" transform="translate(362.53 1619.3)" class="hv">30</text>
<line x1="376.54" y1="1570.4" x2="376.54" y2="1576.9" stroke="#000" stroke-width="2.5"/>
<line x1="390.55" y1="1570.4" x2="390.55" y2="1576.9" stroke="#000" stroke-width="2.5"/>
<line x1="404.55" y1="1570.4" x2="404.55" y2="1576.9" stroke="#000" stroke-width="2.5"/>
<line x1="418.56" y1="1570.4" x2="418.56" y2="1576.9" stroke="#000" stroke-width="2.5"/>
<line x1="432.57" y1="1570.4" x2="432.57" y2="1576.9" stroke="#000" stroke-width="2.5"/>
<line x1="446.57" y1="1570.4" x2="446.57" y2="1576.9" stroke="#000" stroke-width="2.5"/>
<line x1="460.58" y1="1570.4" x2="460.58" y2="1576.9" stroke="#000" stroke-width="2.5"/>
<line x1="474.59" y1="1570.4" x2="474.59" y2="1576.9" stroke="#000" stroke-width="2.5"/>
<line x1="488.59" y1="1570.4" x2="488.59" y2="1576.9" stroke="#000" stroke-width="2.5"/>
<line x1="502.6" y1="1570.4" x2="502.6" y2="1582.4" stroke="#000" stroke-width="3"/>
<text font-size="33.8" text-anchor="middle" transform="translate(502.6 1619.3)" class="hv">40</text>
<polyline points="124.42,1570.4 180.45,1570.4 208.46,1567.6 236.47,1559.77 264.49,1556.42 292.5,1520.05 320.51,1444.54" fill="none" stroke="#a5682a" stroke-width="2.6" stroke-linejoin="round" stroke-linecap="round"/>
<polyline points="180.45,1570.4 208.46,1570.4 236.47,1568.16 264.49,1564.81 292.5,1553.06 320.51,1529.56 348.53,1402.58" fill="none" stroke="#a5682a" stroke-width="2.6" stroke-linejoin="round" stroke-linecap="round"/>
<polyline points="236.47,1570.4 292.5,1568.72 320.51,1559.77 348.53,1525.65 376.54,1436.14 404.55,1357.83" fill="none" stroke="#a5682a" stroke-width="2.6" stroke-linejoin="round" stroke-linecap="round"/>
<polyline points="236.47,1570.4 292.5,1569.84 320.51,1563.69 348.53,1553.06 376.54,1457.4 404.55,1424.96 432.57,1380.2" fill="none" stroke="#a5682a" stroke-width="2.6" stroke-linejoin="round" stroke-linecap="round"/>
<polyline points="236.47,1570.4 292.5,1570.4 320.51,1568.72 348.53,1563.13 376.54,1553.06 404.55,1530.12 432.57,1475.3 460.58,1388.6" fill="none" stroke="#a5682a" stroke-width="2.6" stroke-linejoin="round" stroke-linecap="round"/>
<polyline points="82.4,1570.4 124.42,1569.28 152.43,1545.23 180.45,1518.38 208.46,1380.2" fill="none" stroke="#3f52a3" stroke-width="2.6" stroke-linejoin="round" stroke-linecap="round"/>
<polyline points="82.4,1570.4 124.42,1569.28 152.43,1556.42 180.45,1525.65 208.46,1475.3 236.47,1369.02" fill="none" stroke="#3f52a3" stroke-width="2.6" stroke-linejoin="round" stroke-linecap="round"/>
<polyline points="82.4,1570.4 124.42,1570.4 152.43,1568.16 180.45,1564.81 208.46,1556.42 236.47,1503.27 264.49,1346.64" fill="none" stroke="#3f52a3" stroke-width="2.6" stroke-linejoin="round" stroke-linecap="round"/>
<polyline points="82.4,1570.4 152.43,1569.28 180.45,1567.6 208.46,1542.43 236.47,1508.87 264.49,1430.55" fill="none" stroke="#3f52a3" stroke-width="2.6" stroke-linejoin="round" stroke-linecap="round"/>
<polyline points="82.4,1570.4 152.43,1570.4 180.45,1569.28 208.46,1562.01 236.47,1520.05 264.49,1458.52 292.5,1324.26" fill="none" stroke="#3f52a3" stroke-width="2.6" stroke-linejoin="round" stroke-linecap="round"/>
<text font-size="34.2" text-anchor="middle" transform="translate(291.5 1672.7)" class="hv">days</text>
<line x1="103.2" y1="1261.5" x2="132.8" y2="1261.5" stroke="#3f52a3" stroke-width="2.8" stroke-linecap="round"/>
<text font-size="26.7" transform="translate(149.5 1272.7)" class="hv">shGFP (n=5)</text>
<line x1="103.2" y1="1296.8" x2="132.8" y2="1296.8" stroke="#a5682a" stroke-width="2.8" stroke-linecap="round"/>
<text font-size="26.7" transform="translate(149.5 1308)" class="hv">shDHODH-68 (n=5)</text>
<text font-size="34.5" font-weight="bold" transform="translate(555.5 1216.5)" style="fill:#000">I</text>
<text font-size="34.2" text-anchor="middle" transform="translate(887.5 1231)" class="hv">BE(2)-C xenograft_survival</text>
<text font-size="34.2" text-anchor="middle" transform="translate(588 1423) rotate(-90)" class="hv">Event-free survival</text>
<path d="M677.2 1291.95V1572.2H1097.5" fill="none" stroke="#000" stroke-width="3" stroke-linecap="square"/>
<line x1="665.2" y1="1572.2" x2="677.2" y2="1572.2" stroke="#000" stroke-width="3"/>
<text font-size="33.8" text-anchor="end" transform="translate(663.2 1586.2)" class="hv" letter-spacing="-0.6">0</text>
<line x1="670.7" y1="1560.99" x2="677.2" y2="1560.99" stroke="#000" stroke-width="2.8"/>
<line x1="670.7" y1="1549.78" x2="677.2" y2="1549.78" stroke="#000" stroke-width="2.8"/>
<line x1="670.7" y1="1538.57" x2="677.2" y2="1538.57" stroke="#000" stroke-width="2.8"/>
<line x1="670.7" y1="1527.36" x2="677.2" y2="1527.36" stroke="#000" stroke-width="2.8"/>
<line x1="670.7" y1="1516.15" x2="677.2" y2="1516.15" stroke="#000" stroke-width="2.8"/>
<line x1="670.7" y1="1504.94" x2="677.2" y2="1504.94" stroke="#000" stroke-width="2.8"/>
<line x1="670.7" y1="1493.73" x2="677.2" y2="1493.73" stroke="#000" stroke-width="2.8"/>
<line x1="670.7" y1="1482.52" x2="677.2" y2="1482.52" stroke="#000" stroke-width="2.8"/>
<line x1="670.7" y1="1471.31" x2="677.2" y2="1471.31" stroke="#000" stroke-width="2.8"/>
<line x1="665.2" y1="1460.1" x2="677.2" y2="1460.1" stroke="#000" stroke-width="3"/>
<text font-size="33.8" text-anchor="end" transform="translate(663.2 1474.1)" class="hv" letter-spacing="-0.6">50</text>
<line x1="670.7" y1="1448.89" x2="677.2" y2="1448.89" stroke="#000" stroke-width="2.8"/>
<line x1="670.7" y1="1437.68" x2="677.2" y2="1437.68" stroke="#000" stroke-width="2.8"/>
<line x1="670.7" y1="1426.47" x2="677.2" y2="1426.47" stroke="#000" stroke-width="2.8"/>
<line x1="670.7" y1="1415.26" x2="677.2" y2="1415.26" stroke="#000" stroke-width="2.8"/>
<line x1="670.7" y1="1404.05" x2="677.2" y2="1404.05" stroke="#000" stroke-width="2.8"/>
<line x1="670.7" y1="1392.84" x2="677.2" y2="1392.84" stroke="#000" stroke-width="2.8"/>
<line x1="670.7" y1="1381.63" x2="677.2" y2="1381.63" stroke="#000" stroke-width="2.8"/>
<line x1="670.7" y1="1370.42" x2="677.2" y2="1370.42" stroke="#000" stroke-width="2.8"/>
<line x1="670.7" y1="1359.21" x2="677.2" y2="1359.21" stroke="#000" stroke-width="2.8"/>
<line x1="665.2" y1="1348" x2="677.2" y2="1348" stroke="#000" stroke-width="3"/>
<text font-size="33.8" text-anchor="end" transform="translate(663.2 1362)" class="hv" letter-spacing="-0.6">100</text>
<line x1="670.7" y1="1336.79" x2="677.2" y2="1336.79" stroke="#000" stroke-width="2.8"/>
<line x1="670.7" y1="1325.58" x2="677.2" y2="1325.58" stroke="#000" stroke-width="2.8"/>
<line x1="670.7" y1="1314.37" x2="677.2" y2="1314.37" stroke="#000" stroke-width="2.8"/>
<line x1="670.7" y1="1303.16" x2="677.2" y2="1303.16" stroke="#000" stroke-width="2.8"/>
<line x1="670.7" y1="1291.95" x2="677.2" y2="1291.95" stroke="#000" stroke-width="2.8"/>
<line x1="677.2" y1="1572.2" x2="677.2" y2="1584.2" stroke="#000" stroke-width="3"/>
<text font-size="33.8" text-anchor="middle" transform="translate(677.2 1620.2)" class="hv">10</text>
<line x1="747.25" y1="1572.2" x2="747.25" y2="1584.2" stroke="#000" stroke-width="3"/>
<text font-size="33.8" text-anchor="middle" transform="translate(747.25 1620.2)" class="hv">15</text>
<line x1="817.3" y1="1572.2" x2="817.3" y2="1584.2" stroke="#000" stroke-width="3"/>
<text font-size="33.8" text-anchor="middle" transform="translate(817.3 1620.2)" class="hv">20</text>
<line x1="887.35" y1="1572.2" x2="887.35" y2="1584.2" stroke="#000" stroke-width="3"/>
<text font-size="33.8" text-anchor="middle" transform="translate(887.35 1620.2)" class="hv">25</text>
<line x1="957.4" y1="1572.2" x2="957.4" y2="1584.2" stroke="#000" stroke-width="3"/>
<text font-size="33.8" text-anchor="middle" transform="translate(957.4 1620.2)" class="hv">30</text>
<line x1="1027.45" y1="1572.2" x2="1027.45" y2="1584.2" stroke="#000" stroke-width="3"/>
<text font-size="33.8" text-anchor="middle" transform="translate(1027.45 1620.2)" class="hv">35</text>
<line x1="1097.5" y1="1572.2" x2="1097.5" y2="1584.2" stroke="#000" stroke-width="3"/>
<text font-size="33.8" text-anchor="middle" transform="translate(1097.5 1620.2)" class="hv">40</text>
<polyline points="677.2,1348 915.37,1348 915.37,1392.84 943.39,1392.84 943.39,1437.68 999.43,1437.68 999.43,1482.52 1027.45,1482.52 1027.45,1527.36 1055.47,1527.36 1055.47,1572.2" fill="none" stroke="#a5682a" stroke-width="2.7" stroke-linejoin="miter"/>
<polyline points="677.2,1348 803.29,1348 803.29,1392.84 831.31,1392.84 831.31,1437.68 859.33,1437.68 859.33,1527.36 887.35,1527.36 887.35,1572.2" fill="none" stroke="#3f52a3" stroke-width="2.7" stroke-linejoin="miter"/>
<text font-size="34.2" text-anchor="middle" transform="translate(887.5 1673.2)" class="hv">days</text>
<text font-size="26.7" transform="translate(702.5 1539.5)" class="hv" word-spacing="-2.2"><tspan font-style="italic">p</tspan> = 0.0021</text>
<line x1="698.5" y1="1262.5" x2="728.5" y2="1262.5" stroke="#3f52a3" stroke-width="2.8" stroke-linecap="round"/>
<line x1="713.4" y1="1262.5" x2="713.4" y2="1256" stroke="#3f52a3" stroke-width="2.8"/>
<text font-size="26.7" transform="translate(745.5 1273.5)" class="hv">shGFP (n=5)</text>
<line x1="698.5" y1="1307.5" x2="728.5" y2="1307.5" stroke="#a5682a" stroke-width="2.8" stroke-linecap="round"/>
<line x1="713.4" y1="1307.5" x2="713.4" y2="1301" stroke="#a5682a" stroke-width="2.8"/>
<text font-size="28.5" transform="translate(745.5 1318.5)" class="hv">shDHODH-68 (n=5)</text>
</svg>
</body>
</html>
